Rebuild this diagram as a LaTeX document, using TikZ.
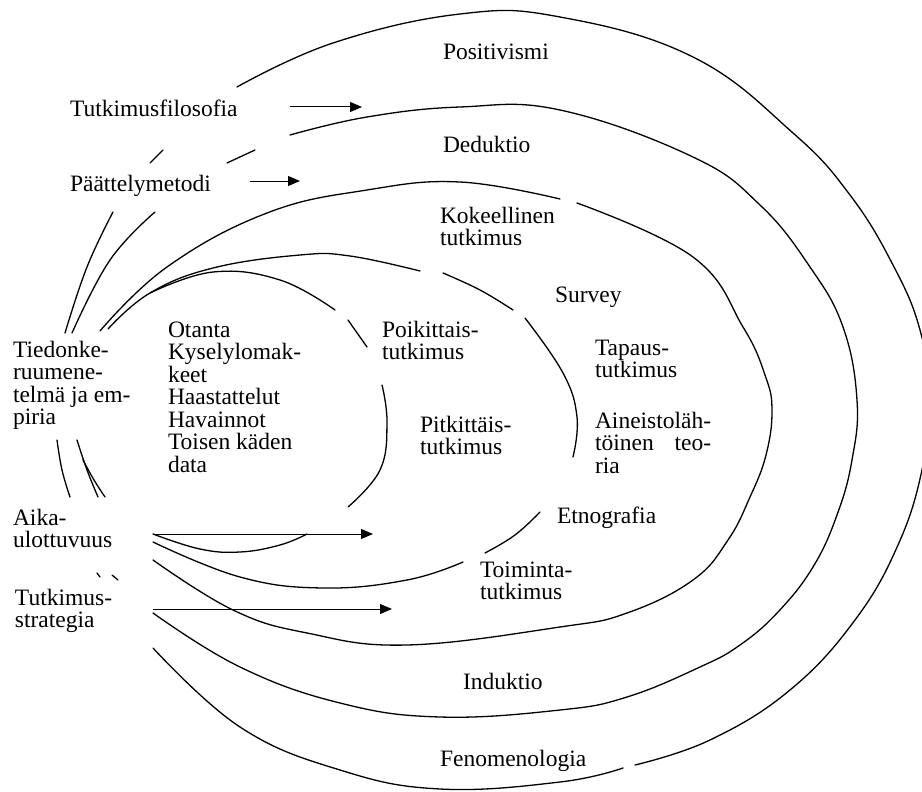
\documentclass[tikz,border=0pt]{standalone}
\usepackage{fontspec}
\setmainfont{Liberation Serif}
\usetikzlibrary{arrows.meta}

% stacked lines of text whose base anchor is the first baseline
\newcommand\txtlines[1]{\vtop{\lineskiplimit=-100pt\let\\\cr\halign{##\hfil\cr#1\crcr}}}

\tikzset{
  lbl/.style={anchor=base west, inner sep=0pt, outer sep=0pt,
              font=\fontsize{23.5}{22.5}\selectfont},
  layer/.style={line width=1.3pt, line cap=round},
  arr/.style={line width=1pt, -{Triangle[length=12pt,width=10pt]}},
  curve/.style={smooth,tension=0.7},
}

\begin{document}
\begin{tikzpicture}[x=1pt,y=-1pt]
\useasboundingbox (0,0) rectangle (922,792);
\clip (0,0) rectangle (922,792);

% ---------- outer layer: research philosophy ----------
\draw[layer] plot[curve] coordinates {(65,333) (87,267) (113,212)};
\draw[layer] (150,163) -- (163,150);
\draw[layer] plot[curve] coordinates {
  (237,87) (333,43) (460,14) (560,17) (693,57) (793,133) (850,195)
  (893,265) (920,330) (930,400) (922,470) (898,545) (855,620) (790,690)
  (710,740) (635,765)};
\draw[layer] plot[curve] coordinates {
  (623,768) (560,782) (440,789) (340,770) (240,727) (153,648)};

% ---------- second layer: approach ----------
\draw[layer] plot[curve] coordinates {(72,333) (110,260) (155,212)};
\draw[layer] (227,163) -- (255,150);
\draw[layer] plot[curve] coordinates {
  (290,135) (367,117) (460,107) (560,110) (693,157) (760,205) (810,267)
  (843,327) (857,400) (852,460) (837,515) (813,567) (778,612) (740,645)
  (700,667) (627,697) (560,710) (440,717) (340,703) (240,667) (153,613)};

% ---------- third layer: strategies ----------
\draw[layer] plot[curve] coordinates {
  (100,331) (167,267) (267,213) (367,190) (460,182) (560,199)};
\draw[layer] plot[curve] coordinates {
  (577,203) (693,257) (743,327) (765,375) (772,410) (766,455) (750,497)
  (728,540) (693,580) (627,613) (560,627) (407,645) (307,633) (233,610)
  (153,560)};

% ---------- fourth layer: time horizons ----------
\draw[layer] plot[curve] coordinates {
  (108,329) (150,293) (213,268) (300,255) (350,256) (420,271)};
\draw[layer] plot[curve] coordinates {(443,273) (480,290) (513,310)};
\draw[layer] plot[curve] coordinates {(525,318) (563,373) (577,417) (573,457)};
\draw[layer] plot[curve] coordinates {(540,512) (515,535) (485,553)};
\draw[layer] plot[curve] coordinates {
  (463,562) (407,580) (323,588) (240,577) (153,542)};

% ---------- inner core: data collection ----------
\draw[layer] plot[curve] coordinates {
  (150,293) (213,272) (280,280) (335,310)};
\draw[layer] (348,320) -- (367,347);
\draw[layer] plot[curve] coordinates {
  (382,385) (387,423) (380,470) (348,507)};
\draw[layer] plot[curve] coordinates {
  (153,534) (200,549) (240,552) (280,545) (307,534)};

% ---------- short strokes between the left labels ----------
\draw[layer] plot[curve] coordinates {(57,440) (62,470) (70,497)};
\draw[layer] plot[curve] coordinates {(77,440) (87,470) (98,497)};
\draw[layer] plot[curve] coordinates {(83,460) (94,480) (105,497)};
\draw[layer] (97,573) -- (100,577);
\draw[layer] (112,575) -- (118,580);

% ---------- labels ----------
\node[lbl] (posit) at (443,60)  {Positivismi};
\node[lbl] (filos) at (70,117)  {Tutkimusfilosofia};
\node[lbl] (deduk) at (443,153) {Deduktio};
\node[lbl] (paatt) at (70,191)  {Päättelymetodi};
\node[lbl] (kokee) at (440,223) {\txtlines{Kokeellinen\\tutkimus}};
\node[lbl] (surve) at (555,302) {Survey};
\node[lbl] (otant) at (168,337) {\txtlines{Otanta\\Kyselylomak-\\keet\\Haastattelut\\Havainnot\\Toisen käden\\data}};
\node[lbl] (poiki) at (382,337) {\txtlines{Poikittais-\\tutkimus}};
\node[lbl] (tapau) at (595,355) {\txtlines{Tapaus-\\tutkimus}};
\node[lbl] (tiedo) at (13,357)  {\txtlines{Tiedonke-\\ruumene-\\telmä ja em-\\piria}};
\node[lbl] (pitki) at (420,432) {\txtlines{Pitkittäis-\\tutkimus}};
\node[lbl] (ainei) at (595,428) {\txtlines{Aineistoläh-\\töinen\hfill teo-\\ria}};
\node[lbl] (etnog) at (557,523) {Etnografia};
\node[lbl] (aika)  at (13,525)  {\txtlines{Aika-\\ulottuvuus}};
\node[lbl] (toimi) at (480,577) {\txtlines{Toiminta-\\tutkimus}};
\node[lbl] (strat) at (15,605)  {\txtlines{Tutkimus-\\strategia}};
\node[lbl] (induk) at (463,689) {Induktio};
\node[lbl] (fenom) at (440,766) {Fenomenologia};

% ---------- arrows ----------
\coordinate (fa1) at (290,107); \coordinate (fa2) at (362,107);
\coordinate (pa1) at (250,181); \coordinate (pa2) at (300,181);
\coordinate (aa1) at (153,534); \coordinate (aa2) at (373,534);
\coordinate (sa1) at (153,609); \coordinate (sa2) at (392,609);
\draw[arr] (fa1) -- (fa2);
\draw[arr] (pa1) -- (pa2);
\draw[arr] (aa1) -- (aa2);
\draw[arr] (sa1) -- (sa2);
\end{tikzpicture}
\end{document}
